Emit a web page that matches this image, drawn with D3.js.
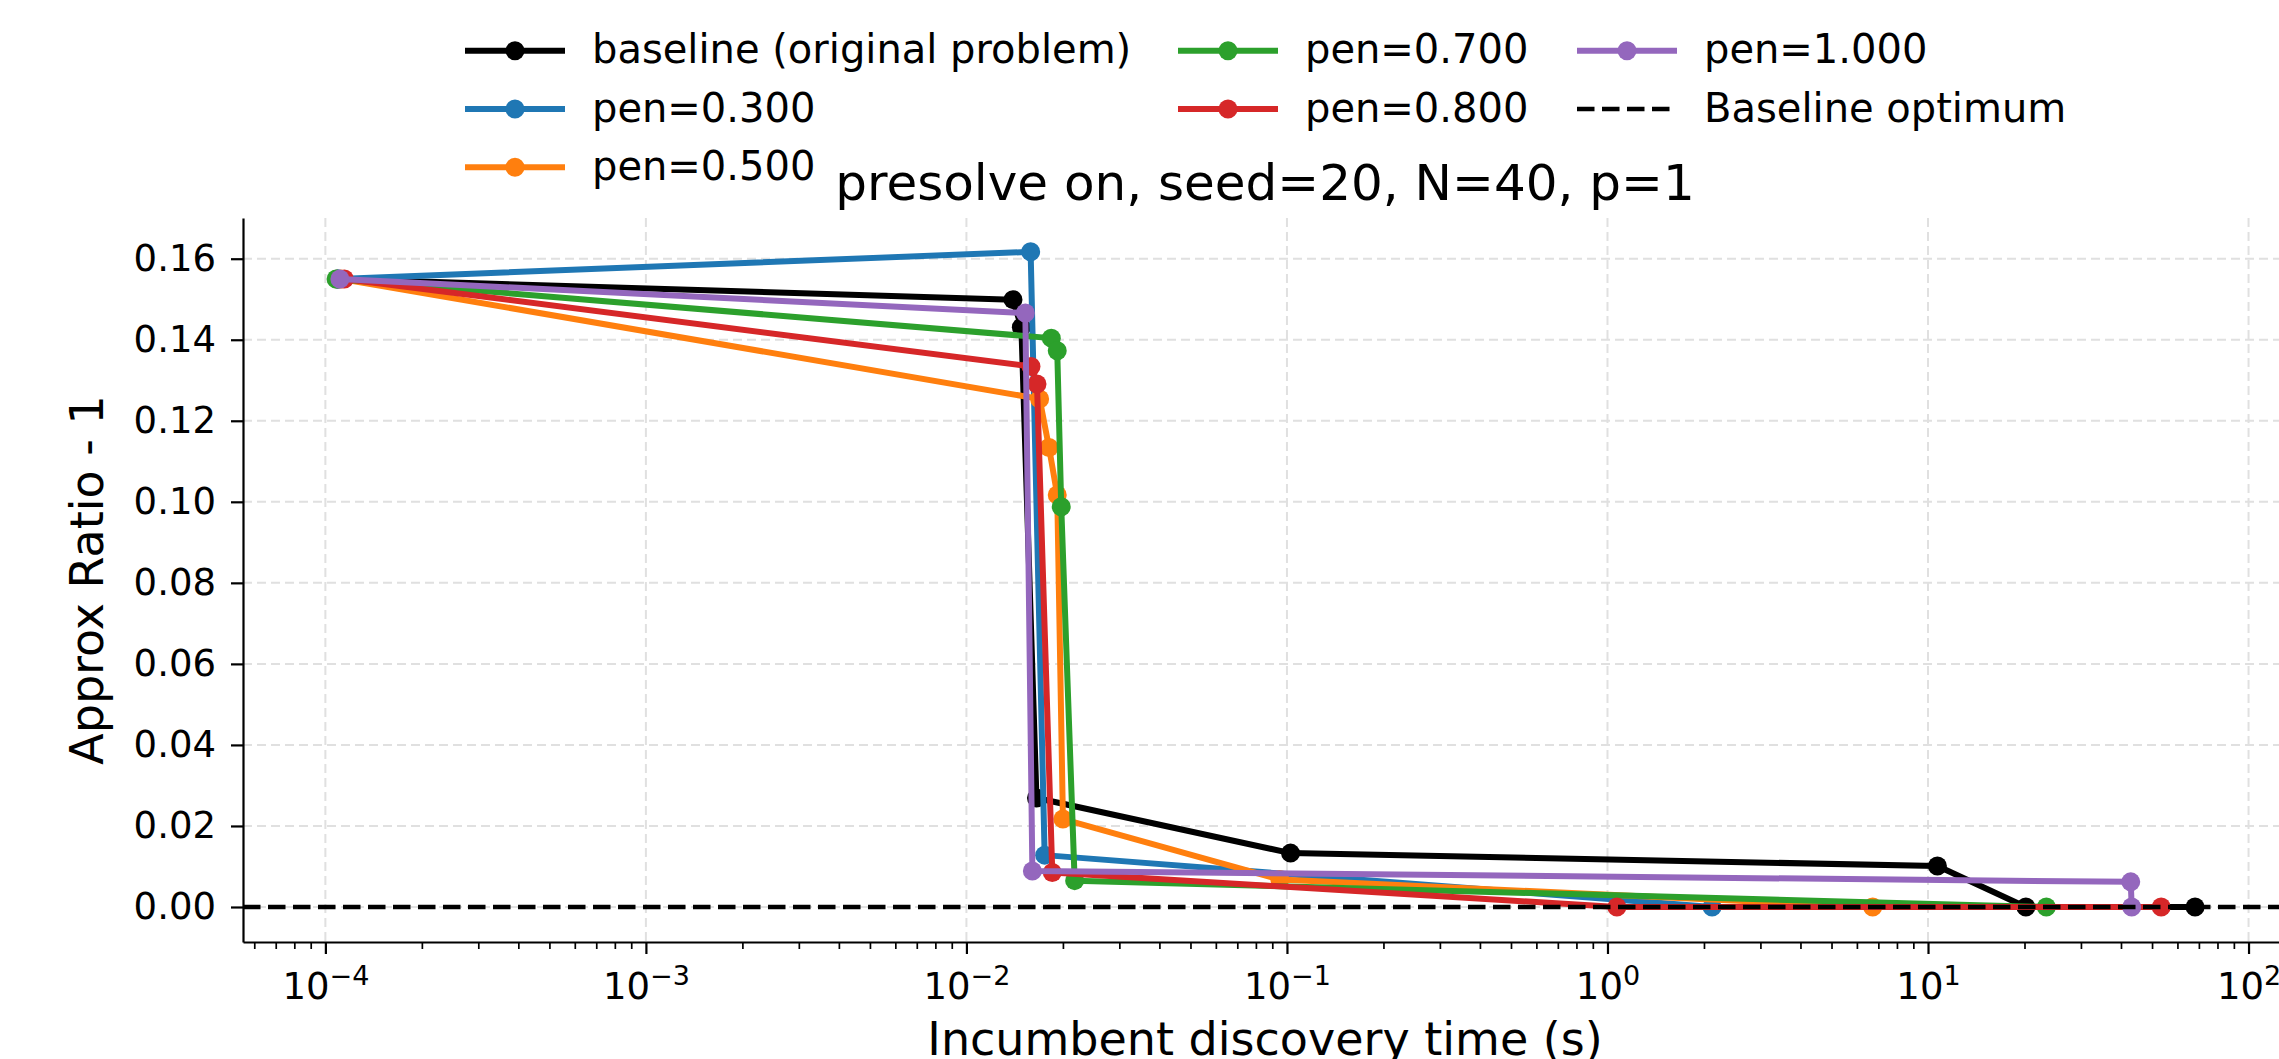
<!DOCTYPE html>
<html><head><meta charset="utf-8">
<script src="https://cdn.jsdelivr.net/npm/d3@7"></script>
<style>
body{margin:0;overflow:hidden;background:#fff}
text{font-family:"DejaVu Sans",sans-serif;fill:#000}
</style>
</head><body>
<svg id="chart" width="2279" height="1059"></svg>
<script>
// ---------------- data ----------------
const seriesNames = ["baseline (original problem)", "pen=0.300", "pen=0.500", "pen=0.700", "pen=0.800", "pen=1.000"];
const seriesColors = ["#000000", "#1f77b4", "#ff7f0e", "#2ca02c", "#d62728", "#9467bd"];

const baselineTimes = [1.09e-4, 0.01397, 0.01484, 0.01654, 0.1026, 10.7, 20.2, 68.1];
const baselineVals  = [0.155, 0.1499, 0.1431, 0.0269, 0.0133, 0.0101, 0.0, 0.0];

const pen300Times = [1.10e-4, 0.01586, 0.01754, 2.12];
const pen300Vals  = [0.155, 0.1617, 0.0128, 0.0];

const pen500Times = [1.12e-4, 0.01692, 0.0181, 0.0192, 0.0200, 0.095, 6.72];
const pen500Vals  = [0.155, 0.1254, 0.1134, 0.1017, 0.0217, 0.0068, 0.0];

const pen700Times = [1.08e-4, 0.0184, 0.0192, 0.01976, 0.02176, 23.4];
const pen700Vals  = [0.155, 0.1404, 0.1373, 0.0988, 0.0065, 0.0];

const pen800Times = [1.146e-4, 0.0159, 0.0166, 0.01853, 1.07, 53.4];
const pen800Vals  = [0.155, 0.1334, 0.1291, 0.0085, 0.0, 0.0];

const pen1000Times = [1.11e-4, 0.01527, 0.01606, 42.9, 43.2];
const pen1000Vals  = [0.155, 0.1466, 0.0089, 0.0062, 0.0];

const baselineOptimum = 0.0;
const baselineOptimumLabel = "Baseline optimum";

const xTickValues = [1e-4, 1e-3, 1e-2, 1e-1, 1, 10, 100];
const xTickExponents = ["\u22124", "\u22123", "\u22122", "\u22121", "0", "1", "2"];
const yTickValues = [0, 0.02, 0.04, 0.06, 0.08, 0.10, 0.12, 0.14, 0.16];
const yTickLabels = ["0.00", "0.02", "0.04", "0.06", "0.08", "0.10", "0.12", "0.14", "0.16"];

const titleText = "presolve on, seed=20, N=40, p=1";
const xLabelText = "Incumbent discovery time (s)";
const yLabelText = "Approx Ratio - 1";

// ---------------- layout ----------------
const L = 243, R = 2287, T = 218, B = 942;
const svg = d3.select("#chart");

const x = d3.scaleLog().domain([Math.pow(10, -4.257), Math.pow(10, 2.12)]).range([L, R]);
const y = d3.scaleLinear().domain([-0.00864, 0.17005]).range([B, T]);

const allSeries = [
  [baselineTimes, baselineVals],
  [pen300Times, pen300Vals],
  [pen500Times, pen500Vals],
  [pen700Times, pen700Vals],
  [pen800Times, pen800Vals],
  [pen1000Times, pen1000Vals]
].map((s, i) => ({
  name: seriesNames[i], color: seriesColors[i],
  pts: s[0].map((t, j) => ({t: t, v: s[1][j]}))
}));

const DASH = "17.5,7.5", DASHW = 4.7;

// grid
const grid = svg.append("g");
grid.selectAll("line.vx").data(xTickValues).enter().append("line")
  .attr("x1", d => x(d)).attr("x2", d => x(d)).attr("y1", T).attr("y2", B)
  .attr("stroke", "#e0e0e0").attr("stroke-width", 2).attr("stroke-dasharray", "9,5");
grid.selectAll("line.hy").data(yTickValues).enter().append("line")
  .attr("x1", L).attr("x2", R).attr("y1", d => y(d)).attr("y2", d => y(d))
  .attr("stroke", "#e0e0e0").attr("stroke-width", 2).attr("stroke-dasharray", "9,5");

// minor ticks
const [dmin, dmax] = x.domain();
const minorTicks = [];
for (let k = -5; k <= 2; k++) for (let m = 2; m <= 9; m++) {
  const v = m * Math.pow(10, k);
  if (v >= dmin && v <= dmax) minorTicks.push(v);
}
const minorAxis = svg.append("g").attr("transform", `translate(0,${B})`)
  .call(d3.axisBottom(x).tickValues(minorTicks).tickFormat("").tickSize(7).tickSizeOuter(0));
minorAxis.select(".domain").remove();
minorAxis.selectAll("line").attr("stroke", "#000").attr("stroke-width", 1.7);

// x axis
const xAxis = svg.append("g").attr("transform", `translate(0,${B})`)
  .call(d3.axisBottom(x).tickValues(xTickValues).tickFormat("").tickSize(12).tickSizeOuter(0));
xAxis.select(".domain").attr("stroke", "#000").attr("stroke-width", 2.2);
xAxis.selectAll(".tick line").attr("stroke", "#000").attr("stroke-width", 2.2);
xAxis.selectAll(".tick text").each(function(d, i) {
  const t = d3.select(this);
  t.attr("y", 56.5).attr("dy", null).attr("font-size", 37).attr("fill", "#000")
   .attr("text-anchor", "middle");
  t.text(null);
  t.append("tspan").text("10");
  t.append("tspan").attr("dy", -13.5).attr("font-size", 27).text(xTickExponents[i]);
});
xAxis.selectAll("text").style("font-family", "'DejaVu Sans',sans-serif");

// y axis
const yAxis = svg.append("g").attr("transform", `translate(${L},0)`)
  .call(d3.axisLeft(y).tickValues(yTickValues).tickFormat((d, i) => yTickLabels[i])
        .tickSize(12).tickPadding(15).tickSizeOuter(0));
yAxis.select(".domain").attr("stroke", "#000").attr("stroke-width", 2.2);
yAxis.selectAll(".tick line").attr("stroke", "#000").attr("stroke-width", 2.2);
yAxis.selectAll(".tick text").attr("font-size", 37).attr("fill", "#000")
  .style("font-family", "'DejaVu Sans',sans-serif");

// series
const line = d3.line().x(d => x(d.t)).y(d => y(d.v));
allSeries.forEach(s => {
  const g = svg.append("g");
  g.append("path").datum(s.pts).attr("d", line).attr("fill", "none")
    .attr("stroke", s.color).attr("stroke-width", 6)
    .attr("stroke-linejoin", "round").attr("stroke-linecap", "round");
  g.selectAll("circle").data(s.pts).enter().append("circle")
    .attr("cx", d => x(d.t)).attr("cy", d => y(d.v)).attr("r", 9.5).attr("fill", s.color);
});

// baseline optimum
svg.append("line").attr("x1", L).attr("x2", R)
  .attr("y1", y(baselineOptimum)).attr("y2", y(baselineOptimum))
  .attr("stroke", "#000").attr("stroke-width", DASHW).attr("stroke-dasharray", DASH);

// title & labels
svg.append("text").attr("x", (L + R) / 2).attr("y", 200).attr("text-anchor", "middle")
  .attr("font-size", 50).text(titleText);
svg.append("text").attr("x", (L + R) / 2).attr("y", 1055).attr("text-anchor", "middle")
  .attr("font-size", 46).text(xLabelText);
svg.append("text").attr("transform", `translate(103,${(T + B) / 2}) rotate(-90)`)
  .attr("text-anchor", "middle").attr("font-size", 46).text(yLabelText);

// legend
const legendItems = allSeries.map(s => ({name: s.name, color: s.color, dashed: false}))
  .concat([{name: baselineOptimumLabel, color: "#000", dashed: true}]);
const colX = [465, 1178, 1577];
const rowY = [50.7, 109, 167.3];
const perCol = [3, 2, 2];
let idx = 0;
const lg = svg.append("g");
perCol.forEach((n, c) => {
  for (let r = 0; r < n; r++, idx++) {
    const it = legendItems[idx];
    const x0 = colX[c], yy = rowY[r];
    if (it.dashed) {
      lg.append("line").attr("x1", x0).attr("x2", x0 + 100).attr("y1", yy).attr("y2", yy)
        .attr("stroke", "#000").attr("stroke-width", DASHW).attr("stroke-dasharray", DASH);
    } else {
      lg.append("line").attr("x1", x0).attr("x2", x0 + 100).attr("y1", yy).attr("y2", yy)
        .attr("stroke", it.color).attr("stroke-width", 6);
      lg.append("circle").attr("cx", x0 + 50).attr("cy", yy).attr("r", 9.5).attr("fill", it.color);
    }
    lg.append("text").attr("x", x0 + 127).attr("y", yy + 12.7).attr("font-size", 40).text(it.name);
  }
});
</script>
</body></html>
